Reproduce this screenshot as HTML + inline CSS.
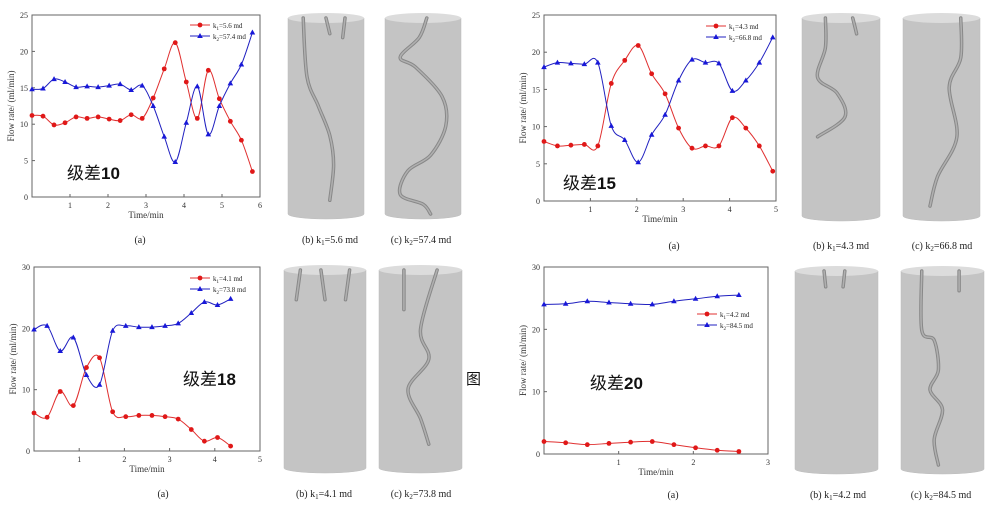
<!DOCTYPE html>
<html><head><meta charset="utf-8"><style>
body{margin:0;background:#fff;}
svg{display:block;font-family:"Liberation Serif",serif;}
.cn{font-family:"Liberation Sans","Noto Sans CJK SC",sans-serif;font-size:17px;fill:#111;}
</style></head><body>
<svg id="s" width="987" height="510" viewBox="0 0 987 510" xmlns="http://www.w3.org/2000/svg"></svg>
<script>
const s=document.getElementById('s');let h='';
function spline(pts){let d='M'+pts[0][0]+','+pts[0][1];for(let i=0;i<pts.length-1;i++){const p0=pts[Math.max(0,i-1)],p1=pts[i],p2=pts[i+1],p3=pts[Math.min(pts.length-1,i+2)];const c1=[p1[0]+(p2[0]-p0[0])/6,p1[1]+(p2[1]-p0[1])/6],c2=[p2[0]-(p3[0]-p1[0])/6,p2[1]-(p3[1]-p1[1])/6];d+=`C${c1[0].toFixed(1)},${c1[1].toFixed(1)} ${c2[0].toFixed(1)},${c2[1].toFixed(1)} ${p2[0].toFixed(1)},${p2[1].toFixed(1)}`;}return d;}
function panel(o){const {x0,x1,y0,y1,xmax,ymax,ystep,red,blue,lx,ly,cn,cx,cy,k1,k2}=o;
const X=v=>x0+(x1-x0)*v/xmax,Y=v=>y1-(y1-y0)*v/ymax;
h+=`<rect x="${x0}" y="${y0}" width="${x1-x0}" height="${y1-y0}" fill="none" stroke="#666" stroke-width="1"/>`;
for(let v=0;v<=ymax;v+=ystep){h+=`<text x="${x0-4}" y="${Y(v)+3}" font-size="8" text-anchor="end" fill="#333">${v}</text>`;if(v>0&&v<ymax)h+=`<line x1="${x0}" x2="${x0+3}" y1="${Y(v)}" y2="${Y(v)}" stroke="#666"/>`;}
for(let v=1;v<=xmax;v++){h+=`<text x="${X(v)}" y="${y1+11}" font-size="8" text-anchor="middle" fill="#333">${v}</text>`;h+=`<line x1="${X(v)}" x2="${X(v)}" y1="${y1}" y2="${y1-3}" stroke="#666"/>`;}
h+=`<text x="${(x0+x1)/2}" y="${y1+21}" font-size="9" text-anchor="middle" fill="#333">Time/min</text>`;
h+=`<text transform="translate(${x0-18},${(y0+y1)/2}) rotate(-90)" font-size="9" text-anchor="middle" fill="#333">Flow rate/ (ml/min)</text>`;
const rp=red.map((v,i)=>[X(i*0.29),Y(v)]),bp=blue.map((v,i)=>[X(i*0.29),Y(v)]);
h+=`<path d="${spline(rp)}" fill="none" stroke="#e03030" stroke-width="1"/>`;
h+=`<path d="${spline(bp)}" fill="none" stroke="#2020c0" stroke-width="1"/>`;
rp.forEach(p=>h+=`<circle cx="${p[0]}" cy="${p[1]}" r="2.4" fill="#e01818"/>`);
bp.forEach(p=>h+=`<path d="M${p[0]},${p[1]-3}L${p[0]+2.8},${p[1]+2}L${p[0]-2.8},${p[1]+2}Z" fill="#1818d8"/>`);
h+=`<line x1="${lx}" x2="${lx+20}" y1="${ly}" y2="${ly}" stroke="#e03030"/><circle cx="${lx+10}" cy="${ly}" r="2.4" fill="#e01818"/>`;
h+=`<text x="${lx+23}" y="${ly+3}" font-size="7" fill="#222">k<tspan font-size="5" dy="2">1</tspan><tspan dy="-2">=${k1} md</tspan></text>`;
h+=`<line x1="${lx}" x2="${lx+20}" y1="${ly+11}" y2="${ly+11}" stroke="#2020c0"/><path d="M${lx+10},${ly+8}L${lx+12.8},${ly+13}L${lx+7.2},${ly+13}Z" fill="#1818d8"/>`;
h+=`<text x="${lx+23}" y="${ly+14}" font-size="7" fill="#222">k<tspan font-size="5" dy="2">2</tspan><tspan dy="-2">=${k2} md</tspan></text>`;
h+=`<text class="cn" x="${cx}" y="${cy}">级差<tspan font-weight="bold">${cn}</tspan></text>`;}
function cyl(x,y,w,hh,paths){const rx=w/2,ry=5;h+=`<path d="M${x},${y}L${x},${y+hh}A${rx},${ry} 0 0 0 ${x+w},${y+hh}L${x+w},${y}Z" fill="#c4c4c4" stroke="#bcbcbc" stroke-width="0.5"/><ellipse cx="${x+rx}" cy="${y}" rx="${rx}" ry="${ry}" fill="#dcdcdc"/>`;
paths.forEach(p=>{const pts=p.map(q=>[x+q[0]*w,y+q[1]*hh]);const d=spline(pts);h+=`<path d="${d}" fill="none" stroke="#888" stroke-width="3.5" stroke-linecap="round"/><path d="${d}" fill="none" stroke="#b0b0b0" stroke-width="1.5" stroke-linecap="round"/>`;});}
function lab(x,y,t){h+=`<text x="${x}" y="${y}" font-size="10" text-anchor="middle" fill="#222">${t}</text>`;}
panel({x0:32,x1:260,y0:15,y1:197,xmax:6,ymax:25,ystep:5,
red:[11.2,11.1,9.9,10.2,11.0,10.8,11.0,10.7,10.5,11.3,10.8,13.6,17.6,21.2,15.8,10.8,17.4,13.5,10.4,7.8,3.5],
blue:[14.8,14.9,16.2,15.8,15.1,15.2,15.1,15.3,15.5,14.7,15.3,12.5,8.3,4.8,10.2,15.2,8.6,12.5,15.6,18.2,22.6],
lx:190,ly:25,cn:'10',cx:67,cy:179,k1:'5.6',k2:'57.4'});
panel({x0:544,x1:776,y0:15,y1:201,xmax:5,ymax:25,ystep:5,
red:[8.0,7.4,7.5,7.6,7.4,15.8,18.9,20.9,17.1,14.4,9.8,7.1,7.4,7.4,11.2,9.8,7.4,4.0],
blue:[18.0,18.6,18.5,18.4,18.6,10.1,8.2,5.2,8.9,11.6,16.2,19.0,18.6,18.5,14.8,16.2,18.6,22.0],
lx:706,ly:26,cn:'15',cx:563,cy:189,k1:'4.3',k2:'66.8'});
panel({x0:34,x1:260,y0:267,y1:451,xmax:5,ymax:30,ystep:10,
red:[6.2,5.5,9.7,7.4,13.6,15.2,6.4,5.6,5.8,5.8,5.6,5.2,3.5,1.6,2.2,0.8],
blue:[19.8,20.4,16.3,18.5,12.4,10.8,19.6,20.4,20.2,20.2,20.4,20.8,22.5,24.3,23.8,24.8],
lx:190,ly:278,cn:'18',cx:183,cy:385,k1:'4.1',k2:'73.8'});
panel({x0:544,x1:768,y0:267,y1:454,xmax:3,ymax:30,ystep:10,
red:[2.0,1.8,1.5,1.7,1.9,2.0,1.5,1.0,0.6,0.4],
blue:[24.0,24.1,24.5,24.3,24.1,24.0,24.5,24.9,25.3,25.5],
lx:697,ly:314,cn:'20',cx:590,cy:389,k1:'4.2',k2:'84.5'});
cyl(288,18,76,196,[[[0.2,0],[0.25,0.3],[0.4,0.45],[0.55,0.6],[0.6,0.75],[0.55,0.93]],[[0.5,0],[0.55,0.08]],[[0.75,0],[0.72,0.1]]]);
cyl(385,18,76,196,[[[0.55,0],[0.45,0.1],[0.2,0.2],[0.4,0.25],[0.75,0.4],[0.8,0.55],[0.6,0.7],[0.3,0.78],[0.2,0.9],[0.5,0.95],[0.6,1.0]]]);
cyl(802,18,78,198,[[[0.3,0],[0.3,0.15],[0.2,0.3],[0.45,0.38],[0.55,0.5],[0.2,0.6]],[[0.65,0],[0.7,0.08]]]);
cyl(903,18,77,198,[[[0.75,0],[0.75,0.2],[0.6,0.35],[0.7,0.6],[0.45,0.8],[0.35,0.95]]]);
cyl(284,270,82,198,[[[0.2,0],[0.15,0.15]],[[0.45,0],[0.5,0.15]],[[0.8,0],[0.75,0.15]]]);
cyl(379,270,83,198,[[[0.3,0],[0.3,0.2]],[[0.7,0],[0.5,0.3],[0.6,0.45],[0.35,0.6],[0.5,0.75],[0.6,0.88]]]);
cyl(795,271,83,198,[[[0.35,0],[0.37,0.08]],[[0.6,0],[0.58,0.08]]]);
cyl(901,271,83,198,[[[0.25,0],[0.25,0.3],[0.4,0.35],[0.45,0.5],[0.35,0.6],[0.5,0.7],[0.4,0.85],[0.45,0.98]],[[0.7,0],[0.7,0.1]]]);
lab(140,243,'(a)');lab(330,243,'(b) k<tspan font-size="7" dy="2">1</tspan><tspan dy="-2">=5.6 md</tspan>');lab(421,243,'(c) k<tspan font-size="7" dy="2">2</tspan><tspan dy="-2">=57.4 md</tspan>');
lab(674,249,'(a)');lab(841,249,'(b) k<tspan font-size="7" dy="2">1</tspan><tspan dy="-2">=4.3 md</tspan>');lab(942,249,'(c) k<tspan font-size="7" dy="2">2</tspan><tspan dy="-2">=66.8 md</tspan>');
lab(163,497,'(a)');lab(324,497,'(b) k<tspan font-size="7" dy="2">1</tspan><tspan dy="-2">=4.1 md</tspan>');lab(421,497,'(c) k<tspan font-size="7" dy="2">2</tspan><tspan dy="-2">=73.8 md</tspan>');
lab(673,498,'(a)');lab(838,498,'(b) k<tspan font-size="7" dy="2">1</tspan><tspan dy="-2">=4.2 md</tspan>');lab(941,498,'(c) k<tspan font-size="7" dy="2">2</tspan><tspan dy="-2">=84.5 md</tspan>');
h+=`<text class="cn" x="466" y="384" style="font-size:15px">图</text>`;
s.innerHTML=h;
</script>
</body></html>
